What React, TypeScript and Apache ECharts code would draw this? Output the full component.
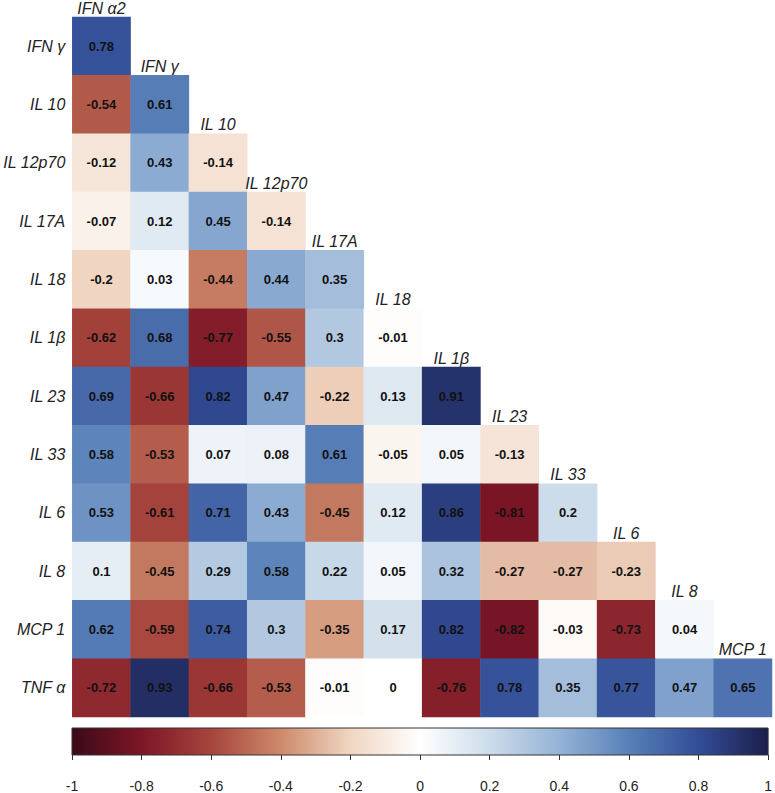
import React, { useEffect, useRef } from "react";
import * as echarts from "echarts";

const columns = ["IFN α2", "IFN γ", "IL 10", "IL 12p70", "IL 17A", "IL 18", "IL 1β", "IL 23", "IL 33", "IL 6", "IL 8", "MCP 1"];
const rows = ["IFN γ", "IL 10", "IL 12p70", "IL 17A", "IL 18", "IL 1β", "IL 23", "IL 33", "IL 6", "IL 8", "MCP 1", "TNF α"];

const rIFNg = [0.78];
const rIL10 = [-0.54, 0.61];
const rIL12p70 = [-0.12, 0.43, -0.14];
const rIL17A = [-0.07, 0.12, 0.45, -0.14];
const rIL18 = [-0.2, 0.03, -0.44, 0.44, 0.35];
const rIL1b = [-0.62, 0.68, -0.77, -0.55, 0.3, -0.01];
const rIL23 = [0.69, -0.66, 0.82, 0.47, -0.22, 0.13, 0.91];
const rIL33 = [0.58, -0.53, 0.07, 0.08, 0.61, -0.05, 0.05, -0.13];
const rIL6 = [0.53, -0.61, 0.71, 0.43, -0.45, 0.12, 0.86, -0.81, 0.2];
const rIL8 = [0.1, -0.45, 0.29, 0.58, 0.22, 0.05, 0.32, -0.27, -0.27, -0.23];
const rMCP1 = [0.62, -0.59, 0.74, 0.3, -0.35, 0.17, 0.82, -0.82, -0.03, -0.73, 0.04];
const rTNFa = [-0.72, 0.93, -0.66, -0.53, -0.01, 0, -0.76, 0.78, 0.35, 0.77, 0.47, 0.65];
const matrix = [rIFNg, rIL10, rIL12p70, rIL17A, rIL18, rIL1b, rIL23, rIL33, rIL6, rIL8, rMCP1, rTNFa];

const palette = [
  "#3b0a17", "#7d1626", "#a6453c", "#cd8a6b", "#f0d6c2",
  "#ffffff",
  "#ccdcea", "#95b3d6", "#5880b8", "#324d97", "#1b1e4a",
];

const FONT = "'Liberation Sans', Arial, Helvetica, sans-serif";

export default function App() {
  const ref = useRef<HTMLDivElement>(null);
  useEffect(() => {
    if (!ref.current) return;
    const chart = echarts.init(ref.current, undefined, { renderer: "svg" });
    const heat: any[] = [];
    matrix.forEach((row, r) => row.forEach((v, c) => heat.push([c, r, v])));
    const diag = columns.map((name, j) => ({ name, value: [j, j] }));
    const gradStops = palette.map((color, i) => ({ offset: i / (palette.length - 1), color }));

    chart.setOption({
      animation: false,
      textStyle: { fontFamily: FONT },
      grid: [
        { left: 72, top: 17, width: 700, height: 700 },
        { left: 72, top: 728, width: 700, height: 27 },
      ],
      xAxis: [
        {
          type: "category", gridIndex: 0, data: columns,
          axisLine: { show: false }, axisTick: { show: false }, axisLabel: { show: false }, splitLine: { show: false },
        },
        {
          type: "value", gridIndex: 1, min: -1, max: 1, interval: 0.2,
          axisLine: { show: false },
          axisTick: { show: true, length: 5, lineStyle: { color: "#333" } },
          axisLabel: {
            margin: 24, fontSize: 14, color: "#222", fontFamily: FONT,
            formatter: (v: number) => String(Math.round(v * 10) / 10),
          },
          splitLine: { show: false },
        },
      ],
      yAxis: [
        {
          type: "category", gridIndex: 0, data: rows, inverse: true,
          axisLine: { show: false }, axisTick: { show: false }, splitLine: { show: false },
          axisLabel: { fontSize: 16, fontStyle: "italic", color: "#222", margin: 7, fontFamily: FONT },
        },
        {
          type: "value", gridIndex: 1, min: 0, max: 1, show: false,
        },
      ],
      visualMap: {
        show: false, type: "continuous", min: -1, max: 1, seriesIndex: 0, dimension: 2,
        inRange: { color: palette },
      },
      series: [
        {
          type: "heatmap", xAxisIndex: 0, yAxisIndex: 0, data: heat,
          itemStyle: { borderWidth: 0 },
          label: {
            show: true, fontSize: 13, fontWeight: "bold", color: "#111", fontFamily: FONT,
            formatter: (p: any) => String(p.value[2]),
          },
          emphasis: { disabled: true },
        },
        {
          type: "custom", xAxisIndex: 0, yAxisIndex: 0, data: diag,
          renderItem: (params: any, api: any) => {
            const j = api.value(0);
            const c = api.coord([j, j]);
            const h = api.size([1, 1])[1];
            return {
              type: "text",
              x: c[0],
              y: c[1] - h / 2 - 1,
              style: {
                text: columns[params.dataIndex],
                fontSize: 16, fontStyle: "italic", fill: "#222", fontFamily: FONT,
                align: "center", verticalAlign: "bottom",
              },
            };
          },
          silent: true,
        },
        {
          type: "custom", xAxisIndex: 1, yAxisIndex: 1, data: [[-1, 1]],
          renderItem: (_params: any, api: any) => {
            const p0 = api.coord([-1, 1]);
            const p1 = api.coord([1, 0]);
            return {
              type: "rect",
              shape: { x: p0[0], y: p0[1], width: p1[0] - p0[0], height: p1[1] - p0[1] },
              style: {
                fill: new echarts.graphic.LinearGradient(0, 0, 1, 0, gradStops),
                stroke: "#333", lineWidth: 1,
              },
            };
          },
          silent: true,
        },
      ],
    });
    return () => chart.dispose();
  }, []);
  return <div ref={ref} style={{ position: "fixed", left: 0, top: 0, width: 775, height: 793, background: "#fff" }} />;
}
